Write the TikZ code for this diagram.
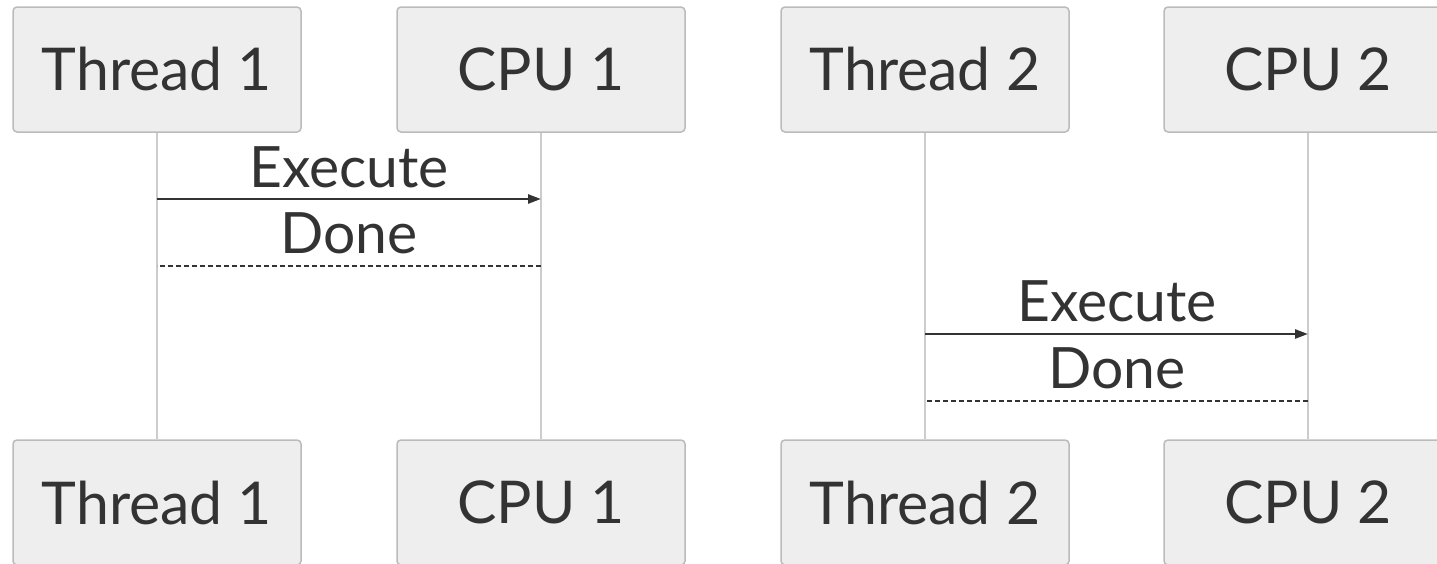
\documentclass[tikz,border=0pt]{standalone}
\usepackage{fontspec}
\setmainfont{Lato}
\usetikzlibrary{arrows.meta}
\definecolor{boxfill}{HTML}{EEEEEE}
\definecolor{boxline}{HTML}{BBBBBB}
\definecolor{txt}{HTML}{333333}
\definecolor{life}{HTML}{CCCCCC}
\tikzset{
  actor/.style={draw=boxline, fill=boxfill, line width=1.5pt, rounded corners=4pt,
    minimum width=288pt, minimum height=125pt, inner sep=0pt, text=txt,
    font=\fontsize{59}{66}\selectfont},
  lifeline/.style={draw=life, line width=1.5pt},
  callmsg/.style={draw=txt, line width=2.5pt, -{Triangle[length=13pt,width=9pt]}},
  retmsg/.style={draw=txt, line width=2.5pt, dash pattern=on 5pt off 3pt},
  msglabel/.style={text=txt, font=\fontsize{57}{64}\selectfont, inner sep=0pt, anchor=base}
}
\begin{document}
\begin{tikzpicture}[x=1pt,y=-1pt]
\useasboundingbox (0,0) rectangle (1437,563);
\clip (0,0) rectangle (1437,563);
\node[actor] (t1top) at (157,69.5) {Thread 1};
\node[actor] (c1top) at (541,69.5) {CPU 1};
\node[actor] (t2top) at (925,69.5) {Thread 2};
\node[actor] (c2top) at (1308,69.5) {CPU 2};
\node[actor] (t1bot) at (157,502.5) {Thread 1};
\node[actor] (c1bot) at (541,502.5) {CPU 1};
\node[actor] (t2bot) at (925,502.5) {Thread 2};
\node[actor] (c2bot) at (1308,502.5) {CPU 2};
\draw[lifeline] (t1top.south) -- (t1bot.north);
\draw[lifeline] (c1top.south) -- (c1bot.north);
\draw[lifeline] (t2top.south) -- (t2bot.north);
\draw[lifeline] (c2top.south) -- (c2bot.north);
% messages
\coordinate (y1) at (0,199);
\coordinate (y2) at (0,266);
\coordinate (y3) at (0,334);
\coordinate (y4) at (0,401);
\draw[callmsg] (t1top.south |- y1) -- (c1top.south |- y1);
\draw[retmsg] (c1top.south |- y2) -- (t1top.south |- y2);
\draw[callmsg] (t2top.south |- y3) -- (c2top.south |- y3);
\draw[retmsg] (c2top.south |- y4) -- (t2top.south |- y4);
\node[msglabel] (e1) at (349,187) {Execute};
\node[msglabel] (d1) at (349,253) {Done};
\node[msglabel] (e2) at (1117,321) {Execute};
\node[msglabel] (d2) at (1117,388) {Done};
\end{tikzpicture}
\end{document}
